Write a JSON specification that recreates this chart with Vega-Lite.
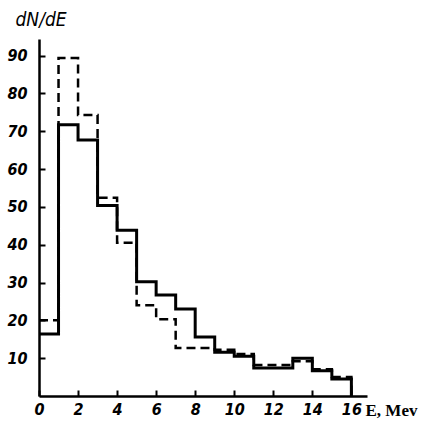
{
  "$schema": "https://vega.github.io/schema/vega-lite/v6.json",
  "width": 328,
  "height": 357,
  "autosize": "none",
  "padding": {"left": 39, "top": 39, "right": 55, "bottom": 29},
  "background": "white",
  "config": {
    "view": {"stroke": null},
    "axis": {
      "grid": false,
      "domainColor": "black",
      "domainWidth": 2.5,
      "tickColor": "black",
      "tickWidth": 2,
      "tickSize": -6,
      "labelColor": "black",
      "labelFont": "DejaVu Sans Condensed, Liberation Sans",
      "labelFontSize": 16,
      "labelFontStyle": "italic",
      "labelFontWeight": "bold",
      "titleColor": "black"
    }
  },
  "datasets": {
    "hist": [
      {"E": 0, "solid": 16.4, "dashed": 20},
      {"E": 1, "solid": 71.7, "dashed": 89.4},
      {"E": 2, "solid": 67.7, "dashed": 74.3},
      {"E": 3, "solid": 50.4, "dashed": 52.4},
      {"E": 4, "solid": 43.8, "dashed": 40.5},
      {"E": 5, "solid": 30.2, "dashed": 24},
      {"E": 6, "solid": 26.7, "dashed": 20.3},
      {"E": 7, "solid": 23, "dashed": 12.7},
      {"E": 8, "solid": 15.6, "dashed": 12.7},
      {"E": 9, "solid": 11.6, "dashed": 12.2},
      {"E": 10, "solid": 10.5, "dashed": 11.1},
      {"E": 11, "solid": 7.4, "dashed": 8.2},
      {"E": 12, "solid": 7.4, "dashed": 8.2},
      {"E": 13, "solid": 10, "dashed": 9.2},
      {"E": 14, "solid": 6.7, "dashed": 7.1},
      {"E": 15, "solid": 4.5, "dashed": 5},
      {"E": 16, "solid": 0, "dashed": 0}
    ]
  },
  "data": {"name": "hist"},
  "layer": [
    {
      "mark": {"type": "line", "interpolate": "step-after", "color": "black", "strokeWidth": 2.5, "strokeDash": [9, 5], "clip": true},
      "encoding": {
        "x": {
          "field": "E", "type": "quantitative",
          "scale": {"domain": [0, 16.8], "nice": false, "zero": false},
          "axis": {
            "values": [0, 2, 4, 6, 8, 10, 12, 14, 16],
            "labelPadding": 11,
            "labelFlush": false,
            "title": "E, Mev",
            "titleFont": "Liberation Serif",
            "titleFontSize": 17,
            "titleFontWeight": "bold",
            "titleAlign": "left",
            "titleBaseline": "middle",
            "titleAnchor": null,
            "titleX": 326,
            "titleY": 14
          }
        },
        "y": {
          "field": "dashed", "type": "quantitative",
          "scale": {"domain": [0, 94.4], "nice": false},
          "axis": {
            "values": [10, 20, 30, 40, 50, 60, 70, 80, 90],
            "labelPadding": 18,
            "labelFlush": false,
            "title": "dN/dE",
            "titleAngle": 0,
            "titleFont": "DejaVu Sans Condensed, Liberation Sans",
            "titleFontSize": 19,
            "titleFontStyle": "italic",
            "titleFontWeight": "normal",
            "titleAlign": "left",
            "titleBaseline": "middle",
            "titleAnchor": null,
            "titleX": -24,
            "titleY": -20
          }
        }
      }
    },
    {
      "mark": {"type": "line", "interpolate": "step-after", "color": "black", "strokeWidth": 3, "clip": true},
      "encoding": {
        "x": {"field": "E", "type": "quantitative"},
        "y": {"field": "solid", "type": "quantitative"}
      }
    }
  ]
}
